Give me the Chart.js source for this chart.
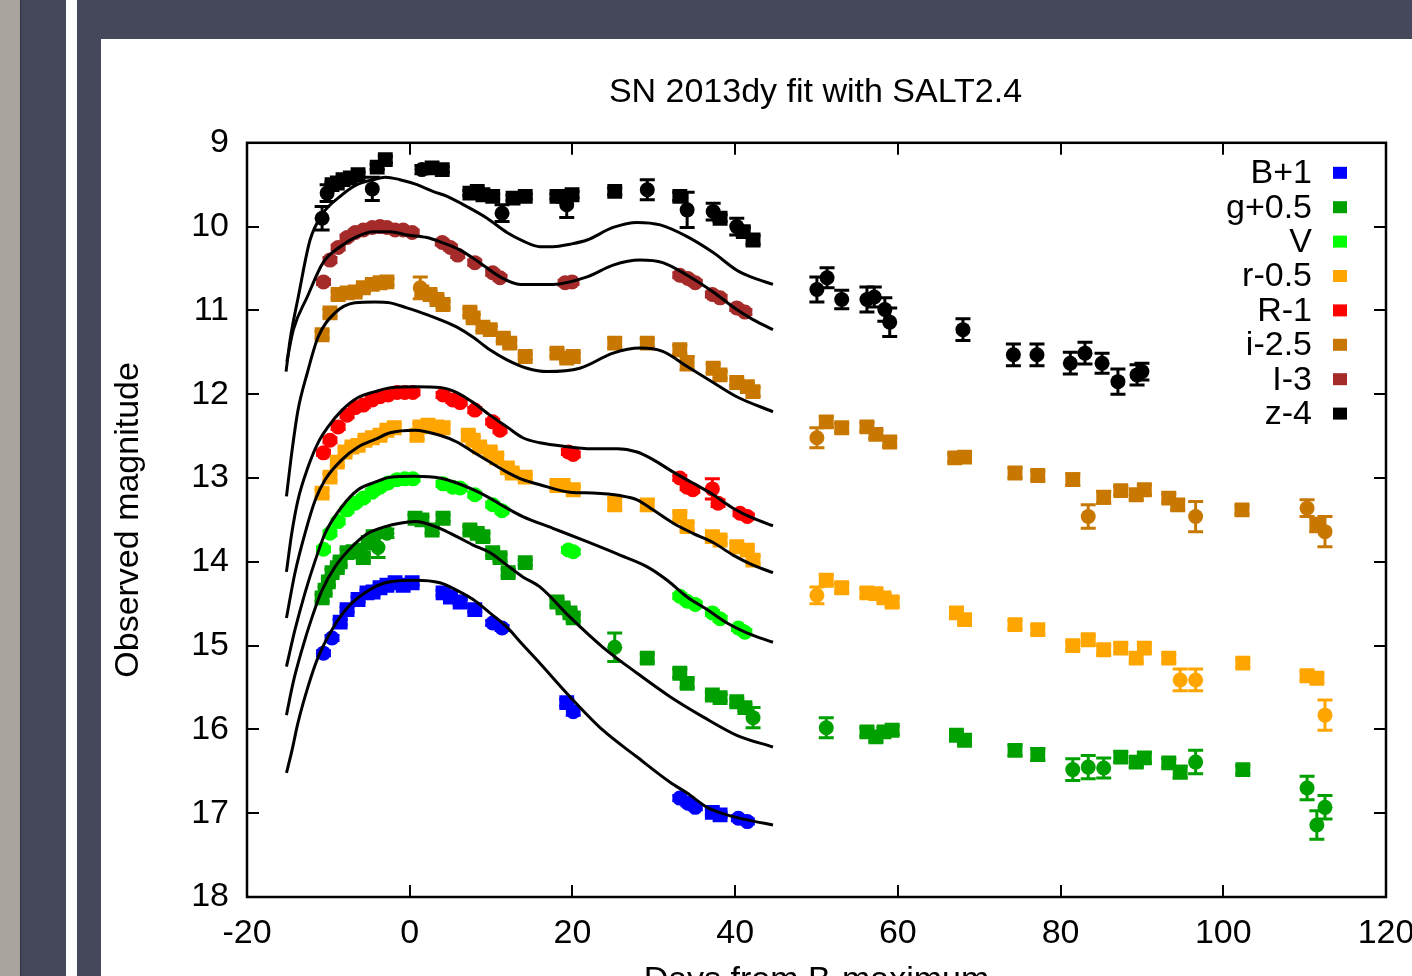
<!DOCTYPE html>
<html>
<head>
<meta charset="utf-8">
<title>SN 2013dy light curves</title>
<script src="https://cdn.jsdelivr.net/npm/chart.js@4.4.1/dist/chart.umd.min.js"></script>
<style>
  html, body { margin: 0; padding: 0; width: 1412px; height: 976px; overflow: hidden; background: #45475a; }
  .strip { position: absolute; top: 0; height: 976px; }
  #grey { left: 0; width: 20px; background: #aaa49e; }
  #edge { left: 20px; width: 1px; background: #2f3040; }
  #gap { left: 66px; width: 11px; background: #fcfcfc; }
  #plot { position: absolute; left: 101px; top: 39px; background: #fff; }
</style>
</head>
<body>
<div class="strip" id="grey"></div>
<div class="strip" id="edge"></div>
<div class="strip" id="gap"></div>
<canvas id="plot" width="1429" height="966"></canvas>
<script>
// photometry: [day from B max, offset magnitude, error]
// _sq = first photometry set, _ci = second photometry set
const B_sq = [[-8.55,14.72,0.03],[-7.7,14.57,0.03],[-6.35,14.45,0.03],[-5.25,14.37,0.03],[-4.5,14.36,0.03],[-3.65,14.31,0.03],[-2.8,14.28,0.03],[-1.8,14.25,0.03],[-0.8,14.28,0.03],[0.3,14.25,0.03],[4.1,14.37,0.03],[5.0,14.42,0.03],[6.2,14.48,0.03],[8.0,14.57,0.03],[19.3,15.68,0.04],[37.2,16.99,0.03],[38.15,17.02,0.03]];
const B_ci = [[-10.6,15.09,0.03],[-9.55,14.91,0.03],[10.2,14.73,0.03],[11.35,14.79,0.03],[20.1,15.79,0.04],[33.2,16.82,0.03],[34.2,16.88,0.03],[35.1,16.93,0.03],[40.4,17.06,0.03],[41.5,17.10,0.03]];

const g_sq = [[-10.77,14.43,0.04],[-10.4,14.34,0.04],[-10.0,14.24,0.04],[-9.55,14.13,0.04],[-8.9,14.07,0.04],[-8.55,14.0,0.04],[-7.7,13.89,0.04],[-6.95,13.88,0.04],[-6.1,13.86,0.04],[-5.7,13.95,0.04],[-5.1,13.77,0.04],[-4.5,13.7,0.04],[0.65,13.48,0.04],[1.5,13.5,0.04],[2.75,13.62,0.04],[4.1,13.48,0.04],[7.4,13.62,0.04],[8.3,13.66,0.04],[9.0,13.7,0.04],[10.2,13.89,0.04],[11.1,13.95,0.04],[12.1,14.13,0.04],[14.2,14.01,0.03],[18.1,14.48,0.04],[18.85,14.55,0.04],[19.7,14.61,0.04],[20.1,14.67,0.04],[29.2,15.15,0.05],[33.2,15.33,0.05],[34.1,15.45,0.05],[37.2,15.59,0.04],[38.15,15.62,0.04],[40.2,15.67,0.04],[41.2,15.74,0.04],[56.2,16.03,0.05],[57.3,16.09,0.05],[58.3,16.03,0.05],[59.3,16.01,0.05],[67.2,16.07,0.05],[68.2,16.13,0.05],[74.4,16.25,0.06],[77.2,16.3,0.07],[87.4,16.33,0.06],[89.3,16.39,0.06],[90.3,16.34,0.06],[93.3,16.4,0.05],[94.7,16.51,0.07],[102.4,16.48,0.05]];
const g_ci = [[-3.9,13.83,0.12],[-2.8,13.66,0.05],[25.2,15.02,0.17],[42.2,15.86,0.12],[51.2,15.98,0.12],[81.5,16.48,0.13],[83.4,16.45,0.14],[85.3,16.46,0.12],[96.6,16.39,0.14],[110.3,16.7,0.14],[111.5,17.14,0.17],[112.5,16.93,0.14]];

const V_sq = [];
const V_ci = [[-10.6,13.85,0.03],[-9.8,13.66,0.03],[-8.8,13.52,0.03],[-7.7,13.38,0.03],[-6.7,13.3,0.03],[-5.7,13.24,0.03],[-4.6,13.17,0.03],[-3.65,13.11,0.03],[-2.65,13.06,0.03],[-1.55,13.02,0.03],[-0.6,13.01,0.03],[0.4,13.01,0.03],[4.1,13.07,0.03],[5.3,13.11,0.03],[6.2,13.12,0.03],[8.0,13.2,0.03],[10.2,13.32,0.03],[11.35,13.39,0.03],[19.5,13.86,0.03],[20.1,13.88,0.03],[33.2,14.41,0.03],[34.1,14.47,0.03],[35.1,14.51,0.03],[37.2,14.61,0.03],[38.15,14.68,0.03],[40.4,14.79,0.03],[41.2,14.84,0.03]];

const r_sq = [[-10.77,13.18,0.04],[-9.8,12.99,0.04],[-8.9,12.81,0.04],[-7.95,12.69,0.04],[-7.1,12.63,0.04],[-6.35,12.61,0.04],[-5.5,12.55,0.04],[-4.6,12.52,0.04],[-3.65,12.49,0.04],[-2.8,12.43,0.04],[-1.9,12.4,0.04],[0.9,12.49,0.05],[1.25,12.39,0.04],[2.25,12.37,0.04],[3.35,12.39,0.04],[4.1,12.4,0.04],[7.2,12.49,0.04],[7.8,12.55,0.04],[8.6,12.63,0.04],[9.9,12.69,0.04],[10.7,12.76,0.04],[12.0,12.88,0.04],[12.6,12.94,0.04],[14.2,12.99,0.03],[18.1,13.09,0.04],[18.85,13.09,0.04],[20.1,13.14,0.04],[25.2,13.31,0.08],[29.2,13.32,0.06],[33.2,13.46,0.05],[34.1,13.58,0.05],[37.2,13.7,0.05],[38.15,13.74,0.04],[40.2,13.82,0.04],[41.5,13.86,0.04],[42.2,13.98,0.05],[51.2,14.22,0.06],[53.1,14.31,0.05],[56.2,14.37,0.05],[57.3,14.38,0.05],[58.3,14.43,0.05],[59.3,14.48,0.05],[67.2,14.61,0.06],[68.2,14.69,0.05],[74.4,14.75,0.05],[77.2,14.81,0.05],[81.5,15.0,0.05],[83.4,14.93,0.05],[85.3,15.05,0.05],[87.4,15.03,0.05],[89.3,15.15,0.05],[90.3,15.03,0.05],[93.3,15.15,0.05],[102.4,15.21,0.05],[110.3,15.36,0.05],[111.5,15.39,0.05]];
const r_ci = [[50.05,14.4,0.1],[94.7,15.41,0.13],[96.6,15.41,0.13],[112.5,15.83,0.18]];

const R_sq = [];
const R_ci = [[-10.6,12.7,0.03],[-9.8,12.55,0.03],[-8.8,12.39,0.03],[-7.7,12.25,0.03],[-6.7,12.16,0.03],[-5.7,12.13,0.03],[-4.6,12.07,0.03],[-3.65,12.03,0.03],[-2.65,12.01,0.03],[-1.55,11.98,0.03],[-0.6,11.98,0.03],[0.4,11.98,0.03],[4.1,12.01,0.03],[5.3,12.07,0.03],[6.2,12.1,0.03],[8.0,12.19,0.03],[10.2,12.33,0.03],[11.1,12.43,0.03],[19.5,12.69,0.03],[20.1,12.72,0.03],[33.2,13.0,0.03],[34.1,13.11,0.03],[34.8,13.14,0.03],[37.2,13.13,0.12],[37.9,13.3,0.04],[40.6,13.42,0.03],[41.5,13.46,0.03]];

const i_sq = [[-10.77,11.29,0.04],[-9.8,11.03,0.04],[-8.8,10.81,0.04],[-7.7,10.79,0.04],[-6.7,10.78,0.04],[-5.7,10.73,0.04],[-4.6,10.69,0.04],[-3.65,10.67,0.04],[-2.8,10.66,0.04],[1.5,10.78,0.04],[2.5,10.81,0.04],[3.35,10.87,0.04],[4.1,10.93,0.04],[7.4,11.02,0.04],[7.8,11.09,0.04],[9.0,11.2,0.04],[9.9,11.23,0.04],[11.5,11.33,0.04],[12.3,11.39,0.04],[14.2,11.55,0.03],[18.1,11.51,0.04],[19.3,11.57,0.04],[20.1,11.55,0.04],[25.2,11.39,0.06],[29.2,11.39,0.05],[33.2,11.47,0.05],[34.1,11.63,0.08],[37.3,11.69,0.05],[38.15,11.77,0.04],[40.2,11.86,0.04],[41.5,11.91,0.04],[42.2,11.97,0.05],[51.2,12.33,0.06],[53.1,12.4,0.05],[56.2,12.39,0.05],[57.3,12.48,0.05],[59.0,12.57,0.05],[67.0,12.76,0.05],[68.2,12.75,0.05],[74.4,12.94,0.06],[77.2,12.97,0.05],[81.5,13.02,0.07],[85.3,13.23,0.07],[87.4,13.15,0.05],[89.3,13.2,0.06],[90.3,13.14,0.06],[93.3,13.24,0.05],[94.4,13.32,0.06],[102.3,13.38,0.05],[111.5,13.56,0.08]];
const i_ci = [[1.3,10.73,0.13],[50.05,12.52,0.12],[83.4,13.46,0.14],[96.6,13.46,0.18],[110.3,13.36,0.1],[112.5,13.64,0.18]];

const I_sq = [];
const I_ci = [[-10.6,10.66,0.03],[-9.8,10.4,0.03],[-8.8,10.25,0.03],[-7.7,10.13,0.03],[-6.7,10.07,0.03],[-5.7,10.04,0.03],[-4.6,10.01,0.03],[-3.65,10.0,0.03],[-2.8,10.01,0.03],[-1.8,10.04,0.03],[-0.8,10.04,0.03],[0.3,10.07,0.03],[4.0,10.19,0.03],[5.0,10.25,0.03],[5.9,10.34,0.03],[8.0,10.43,0.03],[10.2,10.55,0.03],[11.1,10.61,0.03],[19.1,10.67,0.03],[19.95,10.66,0.03],[33.2,10.58,0.03],[34.2,10.62,0.03],[35.1,10.67,0.03],[37.2,10.81,0.03],[38.15,10.85,0.03],[40.2,10.97,0.03],[41.2,11.02,0.03]];

const z_sq = [[-9.55,9.5,0.03],[-8.9,9.48,0.03],[-8.2,9.44,0.03],[-7.3,9.42,0.03],[-6.35,9.38,0.03],[-4.0,9.29,0.03],[-3.0,9.2,0.04],[2.75,9.3,0.03],[4.0,9.32,0.03],[7.4,9.6,0.03],[8.3,9.58,0.04],[9.0,9.62,0.04],[10.2,9.64,0.03],[12.7,9.66,0.03],[14.2,9.64,0.03],[18.1,9.64,0.03],[18.85,9.64,0.03],[19.95,9.62,0.04],[25.2,9.58,0.04],[33.2,9.64,0.05],[38.15,9.9,0.04],[41.0,10.06,0.05],[42.2,10.16,0.05]];
const z_ci = [[-10.77,9.9,0.14],[-10.15,9.6,0.1],[-4.6,9.55,0.14],[1.5,9.32,0.05],[11.35,9.84,0.1],[19.3,9.74,0.15],[29.2,9.56,0.12],[34.1,9.8,0.21],[37.3,9.82,0.1],[40.2,10.0,0.1],[50.05,10.75,0.15],[51.3,10.61,0.12],[53.1,10.87,0.11],[56.2,10.87,0.15],[57.1,10.84,0.12],[58.4,10.99,0.14],[59.0,11.14,0.17],[68.0,11.23,0.13],[74.2,11.53,0.13],[77.1,11.53,0.13],[81.2,11.63,0.13],[83.0,11.51,0.13],[85.1,11.63,0.12],[87.05,11.85,0.15],[89.4,11.77,0.12],[90.0,11.73,0.1]];

// SALT2.4 model light curves: [day, offset magnitude]
const B_fit = [[-15.15,16.52],[-14.47,16.25],[-13.73,15.92],[-12.5,15.49],[-11.27,15.14],[-9.55,14.81],[-7.58,14.54],[-5.5,14.37],[-3.0,14.25],[0.65,14.22],[3.7,14.25],[5.8,14.34],[7.8,14.45],[9.85,14.61],[11.95,14.78],[13.9,14.99],[16.0,15.21],[19.7,15.61],[23.75,16.01],[27.95,16.33],[32.0,16.63],[34.1,16.76],[36.55,16.93],[39.0,17.02],[41.5,17.08],[44.65,17.14]];
const g_fit = [[-15.15,15.83],[-14.35,15.45],[-13.25,15.05],[-12.0,14.66],[-10.78,14.34],[-9.18,14.06],[-7.1,13.82],[-5.12,13.66],[-3.0,13.58],[-1.2,13.54],[0.65,13.52],[3.7,13.6],[5.8,13.7],[7.8,13.8],[9.85,13.89],[11.95,14.04],[13.9,14.18],[16.0,14.3],[19.7,14.66],[23.75,15.02],[27.95,15.33],[32.0,15.61],[36.05,15.85],[40.2,16.07],[44.65,16.21]];
const V_fit = [[-15.15,15.25],[-14.1,14.81],[-12.87,14.37],[-11.6,13.98],[-10.4,13.66],[-8.32,13.34],[-6.35,13.14],[-4.27,13.05],[-2.4,12.99],[0.65,12.98],[3.7,13.0],[5.8,13.06],[7.8,13.14],[9.85,13.24],[11.95,13.36],[13.9,13.46],[17.6,13.6],[21.8,13.76],[25.85,13.92],[29.2,14.06],[31.65,14.22],[34.1,14.42],[36.55,14.57],[39.0,14.73],[41.5,14.85],[44.65,14.96]];
const r_fit = [[-15.15,14.67],[-14.1,14.13],[-12.87,13.66],[-11.6,13.26],[-10.4,13.02],[-8.32,12.78],[-6.35,12.63],[-4.27,12.54],[-2.4,12.46],[0.65,12.43],[3.7,12.49],[5.8,12.57],[7.8,12.69],[9.85,12.81],[11.95,12.93],[13.9,13.02],[16.0,13.08],[19.7,13.17],[22.5,13.18],[25.85,13.21],[27.95,13.26],[29.9,13.38],[32.4,13.54],[34.8,13.66],[37.3,13.77],[39.75,13.92],[42.2,14.04],[44.65,14.13]];
const R_fit = [[-15.15,14.12],[-14.5,13.66],[-13.73,13.26],[-12.5,12.87],[-11.27,12.58],[-10.04,12.39],[-8.32,12.19],[-6.35,12.04],[-4.27,11.97],[-2.18,11.92],[0.65,11.91],[3.7,11.92],[5.8,11.98],[7.8,12.1],[9.85,12.25],[11.95,12.39],[13.9,12.52],[16.0,12.58],[19.7,12.63],[21.8,12.65],[25.5,12.65],[27.95,12.69],[29.9,12.78],[32.4,12.93],[34.8,13.06],[37.3,13.2],[39.75,13.36],[42.2,13.48],[44.65,13.57]];
const i_fit = [[-15.15,13.22],[-14.5,12.7],[-13.73,12.19],[-12.6,11.75],[-11.27,11.32],[-9.18,11.03],[-6.72,10.91],[-4.27,10.9],[-2.4,10.91],[-0.35,10.97],[2.1,11.05],[3.7,11.11],[5.8,11.2],[7.8,11.32],[9.85,11.47],[11.95,11.59],[14.4,11.69],[16.9,11.73],[20.9,11.69],[25.0,11.51],[28.3,11.45],[31.1,11.49],[34.1,11.67],[37.3,11.86],[40.2,12.03],[44.65,12.21]];
const I_fit = [[-15.1,11.61],[-14.3,11.23],[-12.6,10.84],[-10.65,10.43],[-8.55,10.24],[-6.5,10.12],[-4.5,10.06],[-2.4,10.06],[-0.35,10.1],[2.1,10.13],[3.7,10.18],[6.2,10.28],[8.6,10.43],[11.1,10.6],[13.6,10.69],[17.6,10.69],[21.8,10.6],[25.0,10.46],[28.3,10.4],[31.1,10.43],[34.1,10.58],[37.3,10.78],[40.2,10.99],[42.2,11.11],[44.65,11.23]];
const z_fit = [[-15.2,11.73],[-14.7,11.35],[-13.7,10.84],[-12.25,10.16],[-10.65,9.84],[-8.55,9.64],[-6.5,9.5],[-4.5,9.44],[-3.0,9.41],[-1.2,9.44],[0.9,9.5],[2.85,9.58],[4.6,9.64],[7.0,9.76],[9.5,9.9],[11.95,10.07],[13.9,10.17],[16.0,10.24],[17.6,10.24],[19.7,10.21],[21.8,10.16],[25.0,10.01],[27.95,9.95],[30.8,9.98],[34.1,10.12],[37.3,10.31],[40.2,10.52],[42.2,10.61],[44.65,10.69]];

const xTicks = [-20, 0, 20, 40, 60, 80, 100, 120];
const yTicks = [9, 10, 11, 12, 13, 14, 15, 16, 17, 18];

const bands = [
  { label: 'B+1',   color: '#0000ff', sq: B_sq, ci: B_ci, fit: B_fit },
  { label: 'g+0.5', color: '#00a000', sq: g_sq, ci: g_ci, fit: g_fit },
  { label: 'V',     color: '#00ff00', sq: V_sq, ci: V_ci, fit: V_fit },
  { label: 'r-0.5', color: '#ffa500', sq: r_sq, ci: r_ci, fit: r_fit },
  { label: 'R-1',   color: '#ff0000', sq: R_sq, ci: R_ci, fit: R_fit },
  { label: 'i-2.5', color: '#c87800', sq: i_sq, ci: i_ci, fit: i_fit },
  { label: 'I-3',   color: '#a52a2a', sq: I_sq, ci: I_ci, fit: I_fit },
  { label: 'z-4',   color: '#000000', sq: z_sq, ci: z_ci, fit: z_fit }
];

const FONT = 'Liberation Sans, Arial, Helvetica, sans-serif';
const toXY = p => ({ x: p[0], y: p[1], err: p[2] });

var datasets = [];
// model curves first so they are painted over the points
bands.forEach(b => {
  datasets.push({
    data: b.fit.map(toXY),
    showLine: true,
    borderColor: '#000',
    borderWidth: 3,
    pointRadius: 0,
    cubicInterpolationMode: 'monotone'
  });
});
bands.forEach(b => {
  [[b.sq, 'rect', 10.5], [b.ci, 'circle', 7.5]].forEach(set => {
    if (!set[0].length) return;
    datasets.push({
      data: set[0].map(toXY),
      errorBars: true,
      pointStyle: set[1],
      pointRadius: set[2],
      pointBorderWidth: 0,
      backgroundColor: b.color,
      borderColor: b.color
    });
  });
});

// vertical error bars with caps, below the markers
const errorBars = {
  id: 'errorBars',
  beforeDatasetsDraw(chart) {
    const { ctx, chartArea: a, scales: { x, y } } = chart;
    ctx.save();
    ctx.beginPath();
    ctx.rect(a.left, a.top, a.right - a.left, a.bottom - a.top);
    ctx.clip();
    ctx.lineWidth = 3;
    chart.data.datasets.forEach(ds => {
      if (!ds.errorBars) return;
      ctx.strokeStyle = ds.backgroundColor;
      ds.data.forEach(p => {
        const px = x.getPixelForValue(p.x);
        const y1 = y.getPixelForValue(p.y - p.err);
        const y2 = y.getPixelForValue(p.y + p.err);
        ctx.beginPath();
        ctx.moveTo(px, y1); ctx.lineTo(px, y2);
        ctx.moveTo(px - 7.5, y1); ctx.lineTo(px + 7.5, y1);
        ctx.moveTo(px - 7.5, y2); ctx.lineTo(px + 7.5, y2);
        ctx.stroke();
      });
    });
    ctx.restore();
  }
};

// gnuplot style border with inward ticks on all four sides
const frame = {
  id: 'frame',
  afterDatasetsDraw(chart) {
    const { ctx, chartArea: a, scales: { x, y } } = chart;
    const len = 12;
    ctx.save();
    ctx.strokeStyle = '#000';
    ctx.lineWidth = 2;
    ctx.beginPath();
    x.ticks.forEach(t => {
      const px = Math.round(x.getPixelForValue(t.value));
      ctx.moveTo(px, a.bottom); ctx.lineTo(px, a.bottom - len);
      ctx.moveTo(px, a.top); ctx.lineTo(px, a.top + len);
    });
    y.ticks.forEach(t => {
      const py = Math.round(y.getPixelForValue(t.value));
      ctx.moveTo(a.left, py); ctx.lineTo(a.left + len, py);
      ctx.moveTo(a.right, py); ctx.lineTo(a.right - len, py);
    });
    ctx.stroke();
    ctx.lineWidth = 2.5;
    ctx.strokeRect(a.left, a.top, a.right - a.left, a.bottom - a.top);
    ctx.restore();
  }
};

// key in the top right corner: right aligned text, sample square after it
const key = {
  id: 'key',
  afterDraw(chart) {
    const { ctx, chartArea: a } = chart;
    ctx.save();
    ctx.font = '34px ' + FONT;
    ctx.textAlign = 'right';
    ctx.textBaseline = 'middle';
    bands.forEach((b, i) => {
      const cy = a.top + 30 + i * 34.4;
      ctx.fillStyle = '#000';
      ctx.fillText(b.label, a.right - 74, cy + 1);
      ctx.fillStyle = b.color;
      ctx.fillRect(a.right - 53, cy - 6, 14, 12);
    });
    ctx.restore();
  }
};

new Chart(document.getElementById('plot'), {
  type: 'scatter',
  data: { datasets: datasets },
  options: {
    responsive: false,
    animation: false,
    devicePixelRatio: 1,
    layout: { padding: 0 },
    plugins: {
      legend: { display: false },
      tooltip: { enabled: false },
      title: {
        display: true,
        text: 'SN 2013dy fit with SALT2.4',
        color: '#000',
        font: { family: FONT, size: 34, weight: 'normal' },
        padding: { top: 33, bottom: 30 }
      }
    },
    scales: {
      x: {
        type: 'linear',
        min: -20,
        max: 120,
        afterBuildTicks: s => { s.ticks = xTicks.map(v => ({ value: v })); },
        afterFit: s => { s.height = 108; },
        grid: { display: false, drawTicks: false },
        border: { display: false },
        ticks: { color: '#000', padding: 16, maxRotation: 0, font: { family: FONT, size: 34 } },
        title: {
          display: true,
          text: 'Days from B-maximum',
          color: '#000',
          font: { family: FONT, size: 34 },
          padding: { top: 0, bottom: 4 }
        }
      },
      y: {
        type: 'linear',
        min: 9,
        max: 18,
        reverse: true,
        afterBuildTicks: s => { s.ticks = yTicks.map(v => ({ value: v })); },
        afterFit: s => { s.width = 146; },
        grid: { display: false, drawTicks: false },
        border: { display: false },
        ticks: { color: '#000', padding: 18, font: { family: FONT, size: 34 } },
        title: {
          display: true,
          text: 'Observed magnitude',
          color: '#000',
          font: { family: FONT, size: 34 },
          padding: { top: 7, bottom: 0 }
        }
      },
      // empty right margin, keeps the title centred on the whole canvas
      yRight: {
        type: 'linear',
        position: 'right',
        min: 9,
        max: 18,
        afterFit: s => { s.width = 144; },
        grid: { display: false, drawTicks: false },
        border: { display: false },
        ticks: { display: false }
      }
    }
  },
  plugins: [errorBars, frame, key]
});
</script>
</body>
</html>
